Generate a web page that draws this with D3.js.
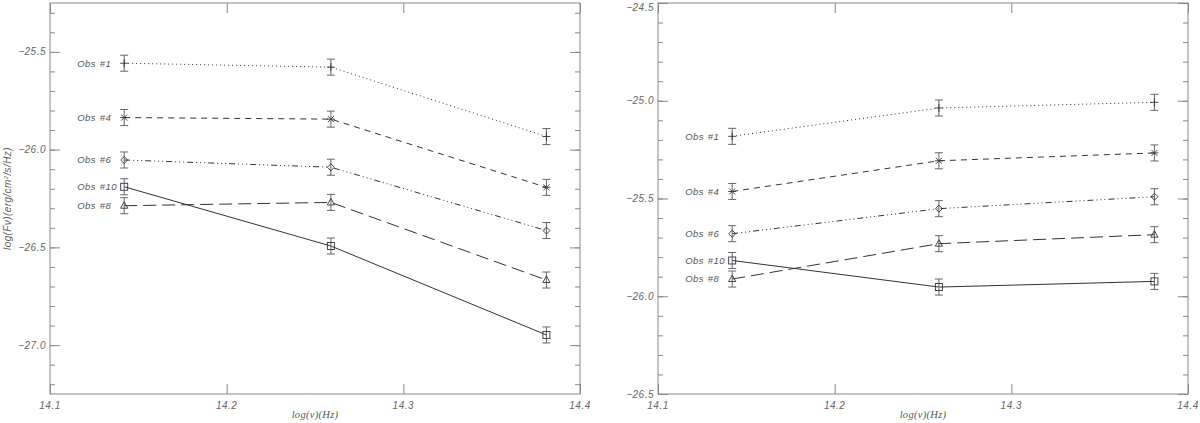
<!DOCTYPE html>
<html>
<head>
<meta charset="utf-8">
<script src="https://cdn.jsdelivr.net/npm/d3@7/dist/d3.min.js"></script>
<style>
  body { margin: 0; background: #fff; }
  svg { display: block; }
  .frame { fill: none; stroke: #888; stroke-width: 1; }
  .tick line { stroke: #888; }
  .lbl { font-family: "Liberation Sans", Arial, sans-serif; font-style: italic; font-size: 9.5px; fill: #555; letter-spacing: 0.4px; word-spacing: 1px; }
  .axlbl { font-family: "Liberation Serif", serif; font-style: italic; font-size: 10.5px; fill: #555; letter-spacing: 0.3px; }
  .ylbl { font-family: "Liberation Sans", Arial, sans-serif; font-style: italic; font-size: 10px; fill: #666; letter-spacing: 0.4px; }
  .tl { font-family: "Liberation Sans", Arial, sans-serif; font-style: italic; font-size: 10px; fill: #666; letter-spacing: 0.5px; }
  .line { fill: none; stroke: #333; stroke-width: 1; }
  .err { stroke: #666; stroke-width: 1; fill: none; }
  .sym { stroke: #333; stroke-width: 0.9; fill: none; }
</style>
</head>
<body>
<div id="chart"></div>
<script>
// frequencies: K, H, J bands
var logNu = [14.142, 14.259, 14.381];
var obsNames = ["Obs #1", "Obs #4", "Obs #6", "Obs #10", "Obs #8"];
var errBar = 0.041;

// left panel, log(F_nu)
var fluxLeft = [
  [-25.558, -25.578, -25.933],
  [-25.836, -25.844, -26.193],
  [-26.053, -26.090, -26.414],
  [-26.190, -26.493, -26.948],
  [-26.287, -26.270, -26.667]
];
// right panel
var fluxRight = [
  [-25.182, -25.037, -25.008],
  [-25.464, -25.307, -25.267],
  [-25.680, -25.552, -25.491],
  [-25.817, -25.953, -25.924],
  [-25.912, -25.731, -25.685]
];

var xTicks = [14.1, 14.2, 14.3, 14.4];
var yTicksLeft = [-25.5, -26.0, -26.5, -27.0];
var yTicksRight = [-24.5, -25.0, -25.5, -26.0, -26.5];

var dashes = ["1,3", "6,5", "6,3,1,3,1,3,1,3", "none", "13,6"];
var symbols = ["plus", "star", "diamond", "square", "triangle"];

var W = 1200, H = 423;
var svg = d3.select("#chart").append("svg")
    .attr("width", W)
    .attr("height", H);

function drawSymbol(g, kind, cx, cy) {
  var s = 3.5;
  if (kind == "plus") {
    g.append("path").attr("class", "sym")
      .attr("d", "M" + (cx - 4) + "," + cy + "H" + (cx + 4) + "M" + cx + "," + (cy - 4) + "V" + (cy + 4));
  } else if (kind == "star") {
    g.append("path").attr("class", "sym")
      .attr("d", "M" + (cx - 4) + "," + cy + "H" + (cx + 4) +
        "M" + (cx - 3) + "," + (cy - 3) + "L" + (cx + 3) + "," + (cy + 3) +
        "M" + (cx - 3) + "," + (cy + 3) + "L" + (cx + 3) + "," + (cy - 3));
  } else if (kind == "diamond") {
    g.append("path").attr("class", "sym")
      .attr("d", "M" + cx + "," + (cy - s) + "L" + (cx + s) + "," + cy + "L" + cx + "," + (cy + s) + "L" + (cx - s) + "," + cy + "Z");
  } else if (kind == "square") {
    g.append("rect").attr("class", "sym")
      .attr("x", cx - s).attr("y", cy - s).attr("width", 2 * s).attr("height", 2 * s);
  } else {
    g.append("path").attr("class", "sym")
      .attr("d", "M" + cx + "," + (cy - 4) + "L" + (cx + 3.6) + "," + (cy + 2.5) + "L" + (cx - 3.6) + "," + (cy + 2.5) + "Z");
  }
}

function panel(left, right, yDomain, flux, yTicks, showYLabel) {
  var top = 3, bottom = 394;
  var x = d3.scaleLinear().domain([14.1, 14.4]).range([left, right]);
  var y = d3.scaleLinear().domain(yDomain).range([bottom, top]);
  var g = svg.append("g");

  var minorX = d3.range(141, 440).map(function(d) { return d / 100; });
  var minorY = d3.range(Math.round(yDomain[0] * 10), Math.round(yDomain[1] * 10) + 1).map(function(d) { return d / 10; });

  // ticks on all four sides, pointing inward
  function ticks(axisFn, scale, vals, size, tx, ty) {
    g.append("g")
      .attr("transform", "translate(" + tx + "," + ty + ")")
      .call(axisFn(scale).tickValues(vals).tickSize(size).tickFormat(""))
      .call(function(s) { s.select(".domain").remove(); });
  }
  ticks(d3.axisTop, x, minorX, 5, 0, bottom);
  ticks(d3.axisBottom, x, minorX, 5, 0, top);
  ticks(d3.axisRight, y, minorY, 5, left, 0);
  ticks(d3.axisLeft, y, minorY, 5, right, 0);
  ticks(d3.axisTop, x, xTicks, 10, 0, bottom);
  ticks(d3.axisBottom, x, xTicks, 10, 0, top);
  ticks(d3.axisRight, y, yTicks, 10, left, 0);
  ticks(d3.axisLeft, y, yTicks, 10, right, 0);

  // tick labels
  g.selectAll(".xtl").data(xTicks).enter().append("text")
    .attr("class", "tl")
    .attr("x", function(d) { return x(d); })
    .attr("y", 409)
    .attr("text-anchor", "middle")
    .text(d3.format(".1f"));

  g.selectAll(".ytl").data(yTicks).enter().append("text")
    .attr("class", "tl")
    .attr("x", left - 4)
    .attr("y", function(d) { return Math.max(y(d), 7); })
    .attr("dy", "0.35em")
    .attr("text-anchor", "end")
    .text(d3.format(".1f"));

  g.append("rect").attr("class", "frame")
    .attr("x", left).attr("y", top)
    .attr("width", right - left).attr("height", bottom - top);

  var line = d3.line()
    .x(function(d, i) { return x(logNu[i]); })
    .y(function(d) { return y(d); });

  flux.forEach(function(series, k) {
    g.append("path")
      .attr("class", "line")
      .attr("d", line(series))
      .style("stroke-dasharray", dashes[k]);

    series.forEach(function(v, i) {
      var cx = x(logNu[i]), y0 = y(v - errBar), y1 = y(v + errBar);
      g.append("path").attr("class", "err")
        .attr("d", "M" + cx + "," + y0 + "V" + y1 +
          "M" + (cx - 4) + "," + y0 + "H" + (cx + 4) +
          "M" + (cx - 4) + "," + y1 + "H" + (cx + 4));
      drawSymbol(g, symbols[k], cx, y(v));
    });

    g.append("text")
      .attr("class", "lbl")
      .attr("x", x(logNu[0]) - 47)
      .attr("y", y(series[0]))
      .attr("dy", "0.35em")
      .text(obsNames[k]);
  });

  g.append("text")
    .attr("class", "axlbl")
    .attr("x", (left + right) / 2)
    .attr("y", 418)
    .attr("text-anchor", "middle")
    .text("log(ν)(Hz)");

  if (showYLabel) {
    var t = g.append("text")
      .attr("class", "ylbl")
      .attr("transform", "translate(11," + ((top + bottom) / 2) + ") rotate(-90)")
      .attr("text-anchor", "middle");
    t.append("tspan").text("log(Fν)(erg/cm");
    t.append("tspan").attr("dy", "-3").style("font-size", "6px").text("2");
    t.append("tspan").attr("dy", "3").text("/s/Hz)");
  }
}

panel(50, 580, [-27.25, -25.25], fluxLeft, yTicksLeft, true);
panel(658, 1188, [-26.5, -24.5], fluxRight, yTicksRight, false);
</script>
</body>
</html>
